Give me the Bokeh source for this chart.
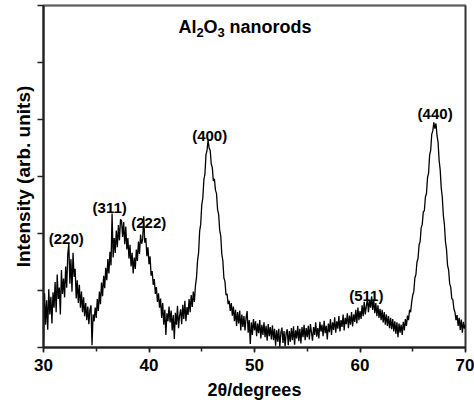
from bokeh.plotting import figure
from bokeh.models import ColumnDataSource, SingleIntervalTicker, Label, BoxAnnotation, Node
from bokeh.core.properties import value
from bokeh.embed import file_html
from bokeh.resources import INLINE

# ---- data ----
two_theta_start = 30.0
two_theta_step = 0.1
intensity = [
    0.12, 0.95, 0.40, 0.83, 0.31, 1.02, 0.58, 0.89, 0.42, 0.97,  # 30
    0.70, 1.15, 0.62, 1.28, 0.85, 1.05, 0.58, 1.36, 0.94, 1.21,  # 31
    0.88, 1.42, 1.05, 1.63, 1.82, 1.12, 1.55, 0.98, 1.66, 1.24,  # 32
    1.38, 0.86, 1.18, 0.78, 1.10, 0.70, 0.98, 0.62, 0.88, 0.55,  # 33
    0.78, 0.48, 0.72, 0.41, 0.66, 0.74, 0.04, 0.58, 0.46, 0.70,  # 34
    0.52, 0.85, 0.64, 0.98, 0.76, 1.14, 0.90, 1.26, 1.04, 1.40,  # 35
    1.18, 1.55, 1.30, 1.68, 1.44, 2.35, 1.58, 1.92, 1.66, 2.05,  # 36
    1.76, 2.15, 1.88, 2.25, 2.22, 1.94, 2.20, 1.81, 2.12, 1.72,  # 37
    1.92, 1.56, 1.80, 1.42, 1.66, 1.30, 1.58, 1.38, 1.72, 1.52,  # 38
    1.86, 1.64, 1.98, 1.82, 1.90, 2.30, 1.84, 1.92, 1.60, 1.76,  # 39
    1.46, 1.60, 1.26, 1.34, 1.10, 1.20, 0.94, 1.06, 0.80, 0.95,  # 40
    0.70, 0.86, 0.52, 0.78, 0.40, 0.66, 0.22, 0.60, 0.46, 0.72,  # 41
    0.44, 0.65, 0.30, 0.57, 0.15, 0.61, 0.40, 0.73, 0.34, 0.56,  # 42
    0.67, 0.41, 0.75, 0.50, 0.82, 0.46, 0.71, 0.57, 0.85, 0.62,  # 43
    0.92, 0.71, 0.98, 0.80, 1.08, 1.22, 1.52, 1.66, 2.04, 2.16,  # 44
    2.50, 2.62, 2.94, 3.04, 3.38, 3.46, 3.64, 3.50, 3.46, 3.22,  # 45
    3.16, 2.92, 2.96, 2.76, 2.70, 2.42, 2.34, 2.06, 1.96, 1.64,  # 46
    1.52, 1.22, 1.16, 0.92, 0.94, 0.76, 0.82, 0.64, 0.78, 0.56,  # 47
    0.72, 0.46, 0.66, 0.38, 0.62, 0.42, 0.65, 0.30, 0.58, 0.36,  # 48
    0.55, 0.30, 0.52, 0.64, 0.26, 0.48, 0.06, 0.44, 0.22, 0.50,  # 49
    0.30, 0.46, 0.20, 0.42, 0.25, 0.48, 0.16, 0.40, 0.22, 0.44,  # 50
    0.18, 0.38, 0.12, 0.41, 0.20, 0.36, 0.14, 0.39, 0.13, 0.33,  # 51
    0.03, 0.30, 0.10, 0.33, 0.01, 0.26, 0.35, 0.08, 0.29, 0.02,  # 52
    0.25, 0.32, 0.04, 0.29, 0.10, 0.34, 0.13, 0.37, 0.05, 0.30,  # 53
    0.16, 0.38, 0.11, 0.33, 0.07, 0.36, 0.18, 0.40, 0.13, 0.34,  # 54
    0.18, 0.38, 0.14, 0.41, 0.26, 0.12, 0.36, 0.22, 0.44, 0.19,  # 55
    0.34, 0.16, 0.45, 0.28, 0.40, 0.20, 0.47, 0.25, 0.38, 0.14,  # 56
    0.42, 0.27, 0.50, 0.22, 0.44, 0.31, 0.53, 0.26, 0.46, 0.33,  # 57
    0.55, 0.28, 0.48, 0.36, 0.58, 0.30, 0.52, 0.41, 0.60, 0.34,  # 58
    0.56, 0.40, 0.62, 0.37, 0.58, 0.45, 0.66, 0.42, 0.70, 0.48,  # 59
    0.64, 0.50, 0.74, 0.55, 0.80, 0.58, 0.72, 0.86, 0.62, 0.83,  # 60
    0.70, 0.90, 0.66, 0.84, 0.60, 0.78, 0.55, 0.74, 0.52, 0.68,  # 61
    0.48, 0.66, 0.44, 0.62, 0.40, 0.58, 0.38, 0.55, 0.34, 0.52,  # 62
    0.32, 0.50, 0.28, 0.46, 0.24, 0.44, 0.18, 0.42, 0.26, 0.40,  # 63
    0.22, 0.45, 0.30, 0.50, 0.38, 0.56, 0.48, 0.66, 0.62, 0.80,  # 64
    0.92, 0.98, 1.22, 1.28, 1.50, 1.56, 1.80, 1.86, 2.10, 2.16,  # 65
    2.38, 2.40, 2.64, 2.70, 2.98, 3.06, 3.38, 3.46, 3.74, 3.80,  # 66
    3.95, 3.84, 3.93, 3.72, 3.60, 3.28, 3.12, 2.80, 2.64, 2.32,  # 67
    2.16, 1.86, 1.72, 1.44, 1.36, 1.12, 1.06, 0.86, 0.84, 0.68,  # 68
    0.62, 0.48, 0.57, 0.38, 0.52, 0.31, 0.49, 0.26, 0.45, 0.33,  # 69
    0.40,                                                        # 70
]
two_theta = [round(two_theta_start + i * two_theta_step, 1) for i in range(len(intensity))]

peak_hkl = ["(220)", "(311)", "(222)", "(400)", "(511)", "(440)"]
peak_label_x = [32.16, 36.27, 39.98, 45.75, 60.6, 67.12]
peak_label_y = [1.91, 2.46, 2.20, 3.72, 0.91, 4.10]

x_ticks_major = 10
y_tick_interval = 1

FONT = "Liberation Sans"

src = ColumnDataSource(data=dict(x=two_theta, y=intensity))
lab = ColumnDataSource(data=dict(x=peak_label_x, y=peak_label_y, t=peak_hkl))

p = figure(width=474, height=403, x_range=(30, 70), y_range=(0, 6),
           output_backend="svg", toolbar_location=None,
           min_border_left=43, min_border_right=9, min_border_top=5, min_border_bottom=56)

# peach band along the top edge of the canvas
p.add_layout(BoxAnnotation(left=Node(target="canvas", symbol="left"),
                           right=Node(target="canvas", symbol="right"),
                           top=Node(target="canvas", symbol="top"),
                           bottom=Node(target="frame", symbol="top"),
                           fill_color="#fcdfbf", fill_alpha=1.0, line_color=None,
                           level="underlay"))

p.line("x", "y", source=src, line_color="black", line_width=1.3)
p.text("x", "y", text="t", source=lab, text_font=value(FONT), text_font_style="bold",
       text_font_size="15px", text_align="center", text_baseline="middle", text_color="black")

# title: Al2O3 nanorods with subscripts
title_x = 42.8
title_y = 5.63
parts = [("Al", "18px", 0, 0), ("2", "13px", 18, -6), ("O", "18px", 25, 0),
         ("3", "13px", 39, -6), ("nanorods", "18px", 51, 0)]
for t, fs, xo, yo in parts:
    p.add_layout(Label(x=title_x, y=title_y, text=t, x_offset=xo, y_offset=yo,
                       text_font=FONT, text_font_style="bold", text_font_size=fs,
                       text_baseline="alphabetic", text_align="left", text_color="black"))

p.xgrid.visible = False
p.ygrid.visible = False
p.outline_line_color = "#333333"
p.outline_line_width = 2
p.background_fill_color = "white"
p.border_fill_color = "white"

p.xaxis.ticker = SingleIntervalTicker(interval=x_ticks_major, num_minor_ticks=2)
p.xaxis.axis_label = "2θ/degrees"
p.xaxis.major_tick_out = 5
p.xaxis.major_tick_in = 0
p.xaxis.minor_tick_out = 4
p.xaxis.minor_tick_in = 0
p.xaxis.major_label_standoff = 6
p.xaxis.axis_label_standoff = 6

p.yaxis.ticker = SingleIntervalTicker(interval=y_tick_interval, num_minor_ticks=0)
p.yaxis.axis_label = "Intensity (arb. units)"
p.yaxis.major_label_text_font_size = "1px"
p.yaxis.major_tick_out = 6
p.yaxis.major_tick_in = 0
p.yaxis.major_label_standoff = 0
p.yaxis.axis_label_standoff = 4

for ax in (p.xaxis, p.yaxis):
    ax.axis_line_color = "#222222"
    ax.axis_line_width = 2
    ax.major_tick_line_color = "#222222"
    ax.major_tick_line_width = 1.5
    ax.minor_tick_line_width = 1.5
    ax.axis_label_text_font = FONT
    ax.axis_label_text_font_style = "bold"
    ax.axis_label_text_color = "black"
    ax.major_label_text_font = FONT
    ax.major_label_text_font_style = "bold"
p.xaxis.minor_tick_line_color = "#222222"
p.yaxis.minor_tick_line_color = None
p.xaxis.major_label_text_color = "black"
p.yaxis.major_label_text_color = None
p.xaxis.major_label_text_font_size = "17px"
p.xaxis.axis_label_text_font_size = "18px"
p.yaxis.axis_label_text_font_size = "19px"

open("out.html", "w").write(file_html(p, INLINE))
